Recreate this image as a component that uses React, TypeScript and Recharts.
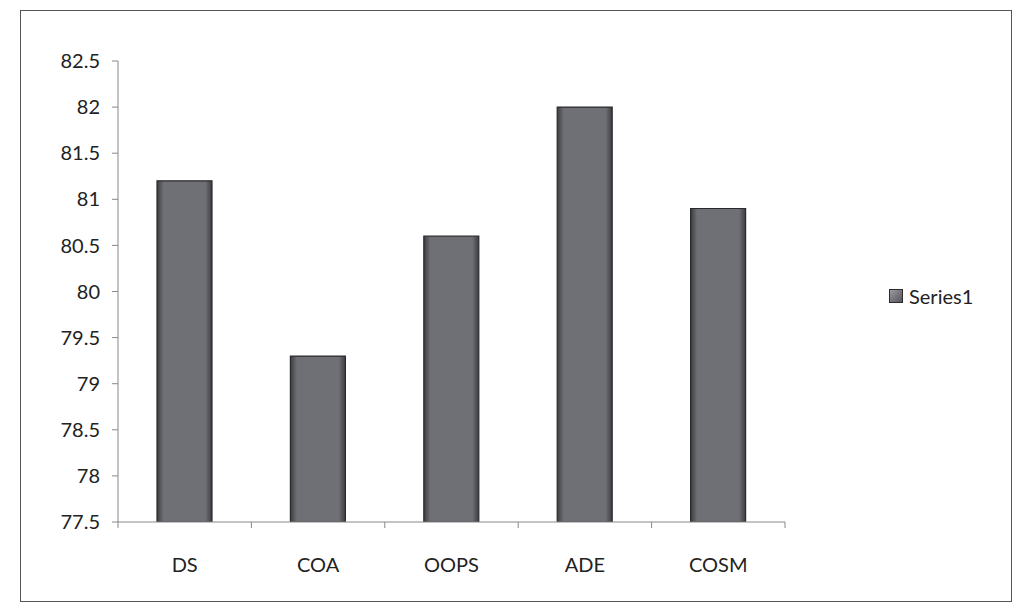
import { Bar, BarChart, XAxis, YAxis } from "recharts";

// values
const subjects = ["DS", "COA", "OOPS", "ADE", "COSM"];
const series1 = [81.2, 79.3, 80.6, 82.0, 80.9];
const yTicks = [77.5, 78, 78.5, 79, 79.5, 80, 80.5, 81, 81.5, 82, 82.5];

const data = subjects.map((name, i) => ({ name, Series1: series1[i] }));

const font = "Lato, 'Open Sans', sans-serif";
const W = 1017;
const H = 615;
const margin = { top: 61, right: 232, bottom: 63, left: 18 };
const yAxisWidth = 100;
const band = (W - margin.left - margin.right - yAxisWidth) / subjects.length;

// category label plus a tick mark at the band's right edge (and left edge for the first)
function SubjectTick(props: any) {
  const { x, y, payload, index } = props;
  const axisY = y - 30 - 6;
  return (
    <g>
      {index === 0 && (
        <line x1={x - band / 2} x2={x - band / 2} y1={axisY} y2={axisY + 6} stroke="#888" />
      )}
      <line x1={x + band / 2} x2={x + band / 2} y1={axisY} y2={axisY + 6} stroke="#888" />
      <text x={x} y={y} dy="0.71em" textAnchor="middle" fill="#222" fontSize={20} fontFamily={font}>
        {payload.value}
      </text>
    </g>
  );
}

export default function App() {
  return (
    <div style={{ position: "fixed", left: 0, top: 0, width: W, height: H, background: "#fff" }}>
      <div
        style={{
          position: "absolute",
          left: 20,
          top: 10,
          width: 990,
          height: 590,
          border: "1.5px solid #555",
        }}
      />
      <div style={{ position: "absolute", left: 0, top: 0 }}>
        <BarChart width={W} height={H} data={data} margin={margin} barSize={55}>
          <defs>
            <linearGradient id="barFill" x1="0" y1="0" x2="1" y2="0">
              <stop offset="0%" stopColor="#3c3c42" />
              <stop offset="12%" stopColor="#6f6f76" />
              <stop offset="88%" stopColor="#6f6f76" />
              <stop offset="100%" stopColor="#3c3c42" />
            </linearGradient>
          </defs>
          <XAxis
            dataKey="name"
            tickLine={false}
            tickSize={6}
            axisLine={{ stroke: "#888" }}
            tick={<SubjectTick />}
            tickMargin={30}
          />
          <YAxis
            width={yAxisWidth}
            domain={[77.5, 82.5]}
            ticks={yTicks}
            interval={0}
            allowDataOverflow
            axisLine={{ stroke: "#888" }}
            tickLine={{ stroke: "#888" }}
            tickSize={6}
            tickMargin={12}
            tick={{ fill: "#222", fontSize: 20, fontFamily: font }}
          />
          <Bar
            dataKey="Series1"
            fill="url(#barFill)"
            stroke="#2b2b2b"
            strokeWidth={1.2}
            isAnimationActive={false}
          />
        </BarChart>
      </div>
      <div
        style={{
          position: "absolute",
          left: 889,
          top: 284,
          display: "flex",
          alignItems: "center",
          fontFamily: font,
          fontSize: 20,
          color: "#222",
        }}
      >
        <span
          style={{
            width: 12,
            height: 12,
            marginRight: 6,
            background: "linear-gradient(135deg, #9a9aa0, #55555c)",
            border: "1px solid #2b2b2b",
          }}
        />
        Series1
      </div>
    </div>
  );
}
